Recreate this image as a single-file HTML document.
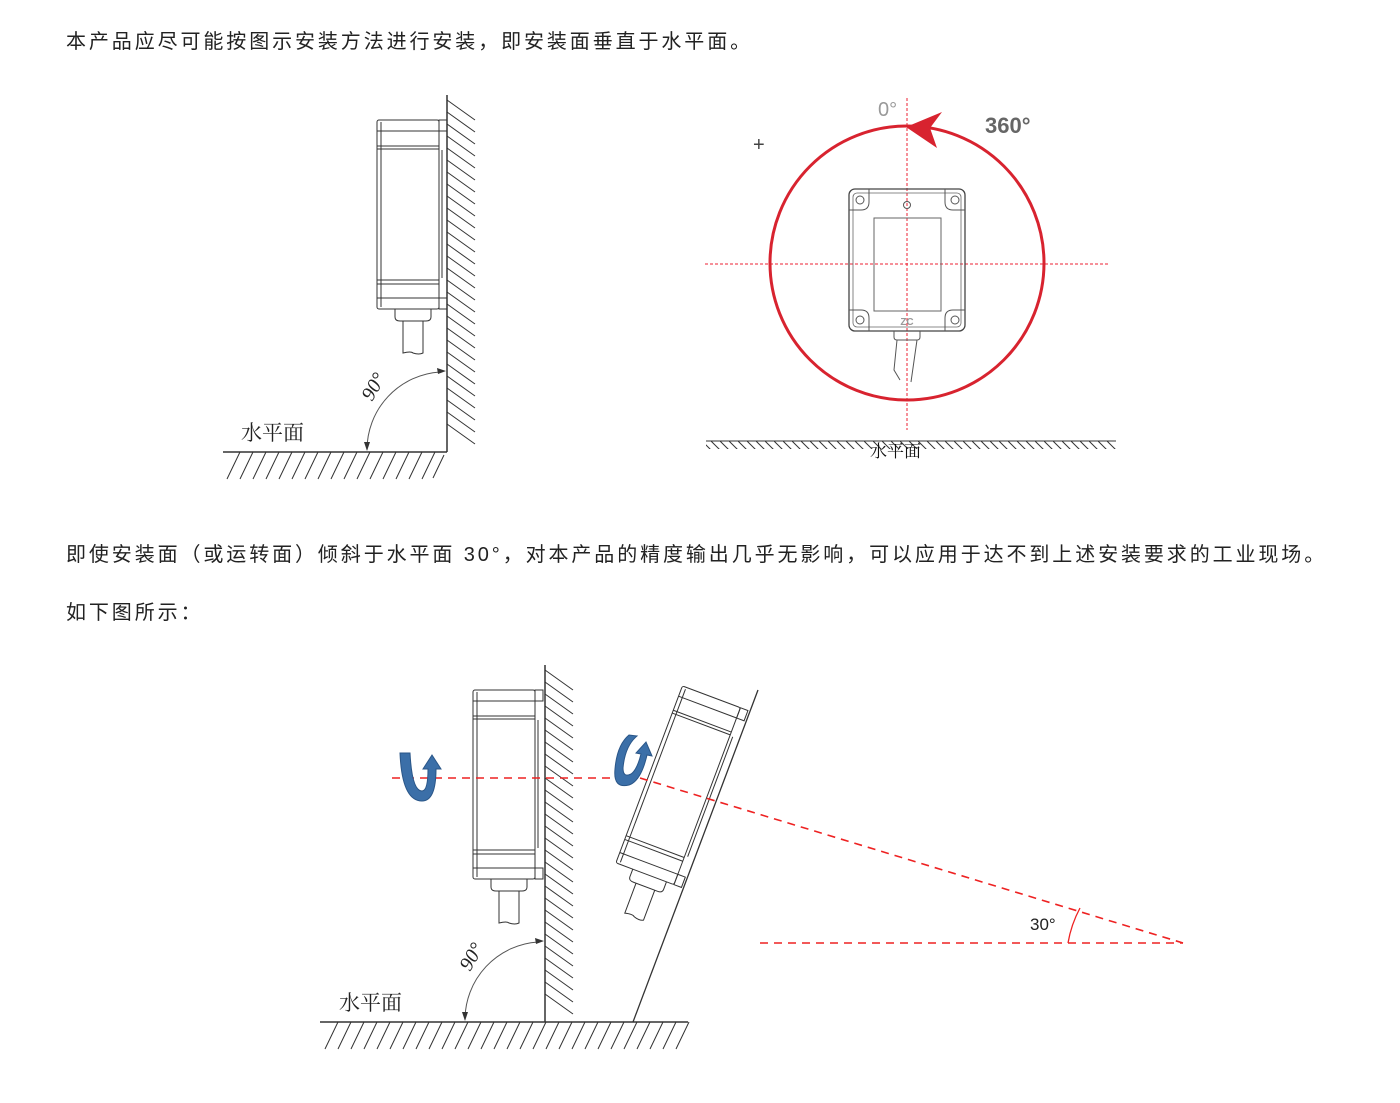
<!DOCTYPE html>
<html><head><meta charset="utf-8"><style>
body{margin:0;background:#fff;width:1400px;height:1103px;overflow:hidden;font-family:"Liberation Sans","Noto Sans CJK SC",sans-serif}
.t{position:absolute;left:66px;font-size:20px;letter-spacing:2.9px;color:#222;white-space:nowrap}
svg{position:absolute;left:0;top:0}
</style></head><body>
<div class="t" style="top:25px">本产品应尽可能按图示安装方法进行安装，即安装面垂直于水平面。</div>
<div class="t" style="top:538px">即使安装面（或运转面）倾斜于水平面 30°，对本产品的精度输出几乎无影响，可以应用于达不到上述安装要求的工业现场。</div>
<div class="t" style="top:596px">如下图所示：</div>
<svg width="1400" height="1103" viewBox="0 0 1400 1103">
<defs>
<pattern id="hv" width="9" height="9" patternUnits="userSpaceOnUse"><path d="M0 0 L9 9" stroke="#333" stroke-width="1"/></pattern>
<g id="sens" fill="none" stroke="#333" stroke-width="1">
<rect x="377" y="120" width="62" height="189" rx="2" fill="#fff"/>
<line x1="381" y1="122" x2="381" y2="307"/>
<line x1="377" y1="131" x2="439" y2="131"/>
<line x1="377" y1="146" x2="439" y2="146"/>
<line x1="377" y1="149" x2="439" y2="149"/>
<line x1="377" y1="280" x2="439" y2="280"/>
<line x1="377" y1="284" x2="439" y2="284"/>
<line x1="377" y1="298" x2="439" y2="298"/>
<rect x="439" y="120" width="8" height="11"/>
<rect x="439" y="298" width="8" height="11"/>
<line x1="442" y1="150" x2="442" y2="278"/>
<path d="M395 309 v8 q0 4 5 4 h26 q5 0 5-4 v-8"/>
<path d="M403 321 v32 q8 -2 10 0 q6 2 10 0 v-32"/>
</g>
</defs>
<use href="#sens"/>
<line x1="447" y1="95" x2="447" y2="452" stroke="#333" stroke-width="1.5"/>
<g stroke="#333" stroke-width="1">
<path d="M447 100 l28 20 M447 112 l28 20 M447 124 l28 20 M447 136 l28 20 M447 148 l28 20 M447 160 l28 20 M447 172 l28 20 M447 184 l28 20 M447 196 l28 20 M447 208 l28 20 M447 220 l28 20 M447 232 l28 20 M447 244 l28 20 M447 256 l28 20 M447 268 l28 20 M447 280 l28 20 M447 292 l28 20 M447 304 l28 20 M447 316 l28 20 M447 328 l28 20 M447 340 l28 20 M447 352 l28 20 M447 364 l28 20 M447 376 l28 20 M447 388 l28 20 M447 400 l28 20 M447 412 l28 20 M447 424 l28 20"/>
</g>
<line x1="223" y1="452" x2="447" y2="452" stroke="#333" stroke-width="1.5"/>
<path d="M240 452 l-13 27 M253 452 l-13 27 M266 452 l-13 27 M279 452 l-13 27 M292 452 l-13 27 M305 452 l-13 27 M318 452 l-13 27 M331 452 l-13 27 M344 452 l-13 27 M357 452 l-13 27 M370 452 l-13 27 M383 452 l-13 27 M396 452 l-13 27 M409 452 l-13 27 M422 452 l-13 27 M435 452 l-13 27 M444 455 l-11 23" stroke="#333" stroke-width="1"/>
<path d="M440 372 A78 78 0 0 0 367 450" fill="none" stroke="#555" stroke-width="1"/>
<path d="M446 371 l-9 -3 l1 6z M367 451 l-3 -9 l6 0z" fill="#333"/>
<text transform="translate(372,402) rotate(-60)" font-family="Liberation Serif,serif" font-size="20" fill="#222" font-style="italic">90°</text>
<text x="241" y="440" font-size="21" fill="#222" font-family="Noto Serif CJK SC,serif">水平面</text>

<line x1="907" y1="98" x2="907" y2="430" stroke="#e23" stroke-width="1" stroke-dasharray="3,2"/>
<line x1="705" y1="264" x2="1110" y2="264" stroke="#e23" stroke-width="1" stroke-dasharray="3,2"/>
<rect x="849" y="189" width="116" height="142" rx="6" fill="none" stroke="#444" stroke-width="1.3"/>
<rect x="853" y="193" width="108" height="134" rx="4" fill="none" stroke="#666" stroke-width="0.8"/>
<rect x="874" y="218" width="67" height="93" fill="none" stroke="#666" stroke-width="1"/>
<g fill="none" stroke="#555" stroke-width="1">
<circle cx="860" cy="200" r="4"/><circle cx="955" cy="200" r="4"/><circle cx="860" cy="320" r="4"/><circle cx="955" cy="320" r="4"/>
<path d="M849 210 h12 q8 0 8-8 v-13 M965 210 h-12 q-8 0 -8-8 v-13 M849 310 h12 q8 0 8 8 v13 M965 310 h-12 q-8 0 -8 8 v13"/>
<circle cx="907" cy="205" r="3.5"/>
<path d="M894 331 v6 q0 3 3 3 h20 q3 0 3-3 v-6 M897 340 l-3 30 l6 10 M917 340 l-6 42"/>
</g>
<text x="907" y="325" font-size="10" font-weight="bold" fill="#999" text-anchor="middle">ZC</text>
<circle cx="907" cy="263" r="137" fill="none" stroke="#d8232f" stroke-width="3"/>
<path d="M906 127 L942 112 L930 128 L937 148 Z" fill="#d8232f"/>
<text x="878" y="116" font-size="20" fill="#999">0°</text>
<text x="985" y="133" font-size="22" font-weight="bold" fill="#666">360°</text>
<text x="753" y="151" font-size="20" fill="#444">+</text>
<rect x="706" y="441" width="410" height="8" fill="url(#hv)"/>
<line x1="706" y1="441" x2="1116" y2="441" stroke="#333" stroke-width="1"/>
<text x="870" y="457" font-size="17" fill="#111" font-family="Noto Serif CJK SC,serif">水平面</text>

<use href="#sens" transform="translate(96,570)"/>
<line x1="545" y1="665" x2="545" y2="1022" stroke="#333" stroke-width="1.5"/>
<g stroke="#333" stroke-width="1" transform="translate(98,570)"><path d="M447 100 l28 20 M447 112 l28 20 M447 124 l28 20 M447 136 l28 20 M447 148 l28 20 M447 160 l28 20 M447 172 l28 20 M447 184 l28 20 M447 196 l28 20 M447 208 l28 20 M447 220 l28 20 M447 232 l28 20 M447 244 l28 20 M447 256 l28 20 M447 268 l28 20 M447 280 l28 20 M447 292 l28 20 M447 304 l28 20 M447 316 l28 20 M447 328 l28 20 M447 340 l28 20 M447 352 l28 20 M447 364 l28 20 M447 376 l28 20 M447 388 l28 20 M447 400 l28 20 M447 412 l28 20 M447 424 l28 20"/></g>
<line x1="320" y1="1022" x2="688" y2="1022" stroke="#333" stroke-width="1.5"/>
<g stroke="#333" stroke-width="1"><path d="M338 1022 l-13 27 M351 1022 l-13 27 M364 1022 l-13 27 M377 1022 l-13 27 M390 1022 l-13 27 M403 1022 l-13 27 M416 1022 l-13 27 M429 1022 l-13 27 M442 1022 l-13 27 M455 1022 l-13 27 M468 1022 l-13 27 M481 1022 l-13 27 M494 1022 l-13 27 M507 1022 l-13 27 M520 1022 l-13 27 M533 1022 l-13 27 M546 1022 l-13 27 M559 1022 l-13 27 M572 1022 l-13 27 M585 1022 l-13 27 M598 1022 l-13 27 M611 1022 l-13 27 M624 1022 l-13 27 M637 1022 l-13 27 M650 1022 l-13 27 M663 1022 l-13 27 M676 1022 l-13 27 M689 1022 l-13 27"/></g>
<path d="M538 942 A78 78 0 0 0 465 1020" fill="none" stroke="#555" stroke-width="1"/>
<path d="M544 941 l-9 -3 l1 6z M465 1021 l-3 -9 l6 0z" fill="#333"/>
<text transform="translate(470,972) rotate(-60)" font-family="Liberation Serif,serif" font-size="20" fill="#222" font-style="italic">90°</text>
<text x="339" y="1010" font-size="21" fill="#222" font-family="Noto Serif CJK SC,serif">水平面</text>
<line x1="633" y1="1022" x2="758" y2="690" stroke="#333" stroke-width="1.3"/>
<g transform="translate(633,1022) rotate(20.6) translate(-545,-1022)"><use href="#sens" transform="translate(96,570)"/></g>
<line x1="392" y1="778" x2="640" y2="778" stroke="#e22" stroke-width="1.6" stroke-dasharray="8,6"/>
<line x1="640" y1="778" x2="1183" y2="943" stroke="#e22" stroke-width="1.6" stroke-dasharray="8,6"/>
<line x1="760" y1="943" x2="1183" y2="943" stroke="#e22" stroke-width="1.6" stroke-dasharray="8,6"/>
<path d="M1068 943 A115 115 0 0 1 1080 908" fill="none" stroke="#e22" stroke-width="1.3"/>
<text x="1030" y="930" font-size="17" fill="#222">30°</text>
<path d="M400 753 h10 q2 38 12 38 q6 0 6-22 h-5 l9 -14 l9 14 h-5 q0 32 -14 32 q-20 0 -22 -48z" fill="#3b6fa8" stroke="#2a5688" stroke-width="1"/>
<path d="M637 736 q-12 10 -14 32 q0 10 8 6 q6 -4 10 -20 l-5 -1 l10 -11 l6 14 l-5 -1 q-6 26 -18 30 q-16 4 -14 -16 q2 -24 14 -34z" fill="#3b6fa8" stroke="#2a5688" stroke-width="1"/>
</svg>
</body></html>
